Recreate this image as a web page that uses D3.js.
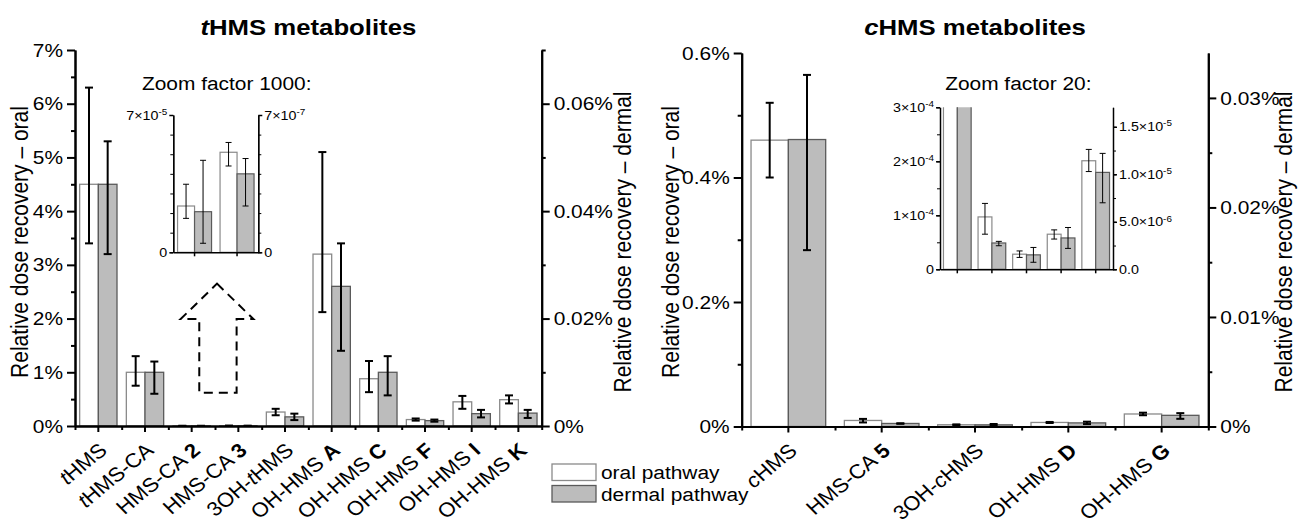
<!DOCTYPE html>
<html>
<head>
<meta charset="utf-8">
<script src="https://cdn.jsdelivr.net/npm/d3@7"></script>
<style>
  body { margin: 0; background: #fff; }
  svg text { font-family: "Liberation Sans", Arial, Helvetica, sans-serif; fill: #000; }
</style>
</head>
<body>
<svg id="chart" width="1298" height="523"></svg>
<script>
// ---- data: tHMS metabolites (values in % of dose) ----
// "_x_" marks italic text, "*x*" marks bold text
const tCategories = ["_t_HMS", "_t_HMS-CA", "HMS-CA *2*", "HMS-CA *3*", "3OH-_t_HMS",
                     "OH-HMS *A*", "OH-HMS *C*", "OH-HMS *F*", "OH-HMS *I*", "OH-HMS *K*"];
const tOral     = [4.5, 1.0, 0.00236, 0.0051, 0.26, 3.2, 0.88, 0.12, 0.45, 0.49];
const tOralLo   = [3.4, 0.75, 0.00173, 0.0044, 0.20, 2.12, 0.63, 0.10, 0.32, 0.42];
const tOralHi   = [6.3, 1.3, 0.00347, 0.0056, 0.32, 5.1, 1.21, 0.14, 0.56, 0.57];
const tDermal   = [0.045, 0.010, 0.0000207, 0.000040, 0.0017, 0.026, 0.010, 0.0010, 0.0023, 0.0024];
const tDermalLo = [0.032, 0.006, 0.0000046, 0.0000236, 0.0011, 0.014, 0.0057, 0.0008, 0.0016, 0.0015];
const tDermalHi = [0.053, 0.012, 0.0000469, 0.0000478, 0.0023, 0.034, 0.013, 0.0012, 0.0030, 0.0030];

// ---- data: cHMS metabolites (values in % of dose) ----
const cCategories = ["_c_HMS", "HMS-CA *5*", "3OH-_c_HMS", "OH-HMS *D*", "OH-HMS *G*"];
const cOral     = [0.46, 0.0097, 0.0028, 0.0065, 0.0201];
const cOralLo   = [0.40, 0.0065, 0.0022, 0.0056, 0.0181];
const cOralHi   = [0.52, 0.0122, 0.0034, 0.0073, 0.0222];
const cDermal   = [0.0262, 0.000277, 0.000152, 0.00033, 0.00102];
const cDermalLo = [0.0161, 0.000248, 0.000074, 0.00022, 0.00070];
const cDermalHi = [0.0321, 0.000294, 0.00023, 0.00044, 0.00122];

// ---- axis ticks ----
const tOralTicks   = [0, 1, 2, 3, 4, 5, 6, 7];
const tDermalTicks = [0, 0.02, 0.04, 0.06];
const cOralTicks   = [0, 0.2, 0.4, 0.6];
const cDermalTicks = [0, 0.01, 0.02, 0.03];

// inset ticks (fractions of dose), "^" starts the exponent
const tInsetLeftTicks   = [0, 7e-5];
const tInsetLeftLabels  = ["0", "7×10^-5"];
const tInsetRightTicks  = [0, 7e-7];
const tInsetRightLabels = ["0", "7×10^-7"];
const cInsetLeftTicks   = [0, 1e-4, 2e-4, 3e-4];
const cInsetLeftLabels  = ["0", "1×10^-4", "2×10^-4", "3×10^-4"];
const cInsetRightTicks  = [0, 5e-6, 1e-5, 1.5e-5];
const cInsetRightLabels = ["0.0", "5.0×10^-6", "1.0×10^-5", "1.5×10^-5"];

// the source figure is slightly stretched sideways
const SX = 1.1;
const ORAL_FILL = '#ffffff', ORAL_STROKE = '#8a8a8a';
const DERMAL_FILL = '#bcbcbc', DERMAL_STROKE = '#5a5a5a';

const svg = d3.select('#chart');

function stretchText(sel) {
    sel.each(function() {
        const t = d3.select(this);
        const x = +t.attr('x') || 0;
        t.attr('x', x / SX).attr('transform', `scale(${SX},1)`);
    });
}

function richLabel(text, label) {
    label.split(/(_[^_]+_|\*[^*]+\*)/).filter(s => s).forEach(p => {
        const ts = text.append('tspan');
        if (p[0] === '_') ts.style('font-style', 'italic').text(p.slice(1, -1));
        else if (p[0] === '*') ts.style('font-weight', 'bold').text(p.slice(1, -1));
        else ts.text(p);
    });
}

function supLabels(axisG) {
    axisG.selectAll('.tick text').each(function() {
        const t = d3.select(this);
        const [m, e] = t.text().split('^');
        t.text(null);
        t.append('tspan').text(m);
        if (e) t.append('tspan').attr('dy', '-0.55em').style('font-size', '9px').text(e);
    });
}

function styleAxis(g, width, size) {
    g.attr('font-size', size).attr('font-family', null);
    g.select('.domain').attr('stroke-width', width);
    g.selectAll('.tick line').attr('stroke-width', width);
}

function drawErrorBars(g, idx, cx, y, lo, hi, width, cap) {
    const eb = g.append('g').selectAll('g').data(idx).join('g')
        .attr('stroke', '#000').attr('stroke-width', width);
    eb.append('line').attr('x1', cx).attr('x2', cx)
        .attr('y1', d => y(lo[d])).attr('y2', d => y(hi[d]));
    eb.append('line').attr('x1', d => cx(d) - cap).attr('x2', d => cx(d) + cap)
        .attr('y1', d => y(hi[d])).attr('y2', d => y(hi[d]));
    eb.append('line').attr('x1', d => cx(d) - cap).attr('x2', d => cx(d) + cap)
        .attr('y1', d => y(lo[d])).attr('y2', d => y(lo[d]));
}

function drawPanel(p) {
    const g = svg.append('g');
    const n = p.cats.length;
    const idx = d3.range(n);
    const x = d3.scaleBand().domain(idx).range([p.x0, p.x1]);
    const xSub = d3.scaleBand().domain(['oral', 'dermal']).range([0, x.bandwidth()]).paddingOuter(0.25);
    const xLin = d3.scaleLinear().domain([0, n]).range([p.x0, p.x1]);
    const yL = d3.scaleLinear().domain([0, p.leftMax]).range([p.yB, p.yT]);
    const yR = d3.scaleLinear().domain([0, p.rightMax]).range([p.yB, p.yT]);

    const series = [
        { key: 'oral', y: yL, v: p.oral, lo: p.oralLo, hi: p.oralHi, fill: ORAL_FILL, stroke: ORAL_STROKE },
        { key: 'dermal', y: yR, v: p.dermal, lo: p.dermalLo, hi: p.dermalHi, fill: DERMAL_FILL, stroke: DERMAL_STROKE }
    ];

    series.forEach(s => {
        g.append('g').selectAll('rect').data(idx).join('rect')
            .attr('x', d => x(d) + xSub(s.key))
            .attr('width', xSub.bandwidth())
            .attr('y', d => s.y(s.v[d]))
            .attr('height', d => p.yB - s.y(s.v[d]))
            .attr('fill', s.fill)
            .attr('stroke', s.stroke)
            .attr('stroke-width', 1.3);
    });
    series.forEach(s => {
        const cx = d => x(d) + xSub(s.key) + xSub.bandwidth() / 2;
        drawErrorBars(g, idx, cx, s.y, s.lo, s.hi, 2, 4);
    });

    // left axis (oral)
    const aL = g.append('g').attr('transform', `translate(${p.x0},0)`)
        .call(d3.axisLeft(yL).tickValues(p.leftTicks).tickFormat(d => d + '%')
            .tickSize(8).tickSizeOuter(0).tickPadding(4));
    styleAxis(aL, 2, 19);
    stretchText(aL.selectAll('text'));
    const aLm = g.append('g').attr('transform', `translate(${p.x0},0)`)
        .call(d3.axisLeft(yL).tickValues(p.leftMinor).tickFormat('').tickSize(4).tickSizeOuter(0));
    styleAxis(aLm, 2, 19);

    // right axis (dermal)
    const aR = g.append('g').attr('transform', `translate(${p.x1},0)`)
        .call(d3.axisRight(yR).tickValues(p.rightTicks).tickFormat(d => d + '%')
            .tickSize(8).tickSizeOuter(0).tickPadding(4));
    styleAxis(aR, 2, 19);
    stretchText(aR.selectAll('text'));
    const aRm = g.append('g').attr('transform', `translate(${p.x1},0)`)
        .call(d3.axisRight(yR).tickValues(p.rightMinor).tickFormat('').tickSize(4).tickSizeOuter(0));
    styleAxis(aRm, 2, 19);

    // bottom axis
    const aB = g.append('g').attr('transform', `translate(0,${p.yB})`)
        .call(d3.axisBottom(x).tickFormat('').tickSize(6).tickSizeOuter(0));
    styleAxis(aB, 2, 19);
    const aBm = g.append('g').attr('transform', `translate(0,${p.yB})`)
        .call(d3.axisBottom(xLin).tickValues(d3.range(n + 1)).tickFormat('').tickSize(4).tickSizeOuter(0));
    styleAxis(aBm, 2, 19);

    // category labels
    idx.forEach(d => {
        const t = g.append('text')
            .attr('transform', `translate(${x(d) + x.bandwidth() / 2 + 10},${p.yB + 26}) scale(${SX},1) rotate(-42)`)
            .attr('text-anchor', 'end')
            .attr('font-size', 20);
        richLabel(t, p.cats[d]);
    });

    // axis titles
    [[p.leftTitleX, 'Relative dose recovery – oral'], [p.rightTitleX, 'Relative dose recovery – dermal']]
        .forEach(([tx, label]) => {
            g.append('text')
                .attr('transform', `translate(${tx},242) scale(${SX},1) rotate(-90)`)
                .attr('text-anchor', 'middle')
                .attr('font-size', 21)
                .text(label);
        });

    // title
    const title = g.append('text')
        .attr('transform', `translate(${(p.x0 + p.x1) / 2},35) scale(1.17,1)`)
        .attr('text-anchor', 'middle')
        .attr('font-size', 22)
        .attr('font-weight', 'bold');
    richLabel(title, p.title);

    return { x, yL, yR };
}

function drawInset(p) {
    const g = svg.append('g');
    const x = d3.scaleBand().domain(p.idx).range([p.x0, p.x1]);
    const xSub = d3.scaleBand().domain(['oral', 'dermal']).range([0, x.bandwidth()]).paddingOuter(0.25);
    const yL = d3.scaleLinear().domain([0, p.leftMax]).range([p.yB, p.yT]);
    const yR = d3.scaleLinear().domain([0, p.rightMax]).range([p.yB, p.yT]);

    svg.append('clipPath').attr('id', p.id)
        .append('rect').attr('x', p.x0).attr('y', p.yT)
        .attr('width', p.x1 - p.x0).attr('height', p.yB - p.yT);
    const plot = g.append('g').attr('clip-path', `url(#${p.id})`);

    // values are kept in %, insets are drawn in fractions of dose
    const frac = arr => arr.map(v => v / 100);
    const series = [
        { key: 'oral', y: yL, v: frac(p.oral), lo: frac(p.oralLo), hi: frac(p.oralHi), fill: ORAL_FILL, stroke: ORAL_STROKE },
        { key: 'dermal', y: yR, v: frac(p.dermal), lo: frac(p.dermalLo), hi: frac(p.dermalHi), fill: DERMAL_FILL, stroke: DERMAL_STROKE }
    ];
    series.forEach(s => {
        plot.append('g').selectAll('rect').data(p.idx).join('rect')
            .attr('x', d => x(d) + xSub(s.key))
            .attr('width', xSub.bandwidth())
            .attr('y', d => s.y(s.v[d]))
            .attr('height', d => p.yB - s.y(s.v[d]))
            .attr('fill', s.fill)
            .attr('stroke', s.stroke)
            .attr('stroke-width', 1.2);
    });
    series.forEach(s => {
        const cx = d => x(d) + xSub(s.key) + xSub.bandwidth() / 2;
        drawErrorBars(plot, p.idx, cx, s.y, s.lo, s.hi, 1, 3);
    });

    const aL = g.append('g').attr('transform', `translate(${p.x0},0)`)
        .call(d3.axisLeft(yL).tickValues(p.leftTicks).tickFormat((d, i) => p.leftLabels[i])
            .tickSize(4).tickSizeOuter(0).tickPadding(2));
    styleAxis(aL, 1.5, 13);
    supLabels(aL);
    stretchText(aL.selectAll('text'));
    const aLm = g.append('g').attr('transform', `translate(${p.x0},0)`)
        .call(d3.axisLeft(yL).tickValues(d3.range(0, p.leftMax * 1.0001, p.leftStep)).tickFormat('')
            .tickSize(3).tickSizeOuter(0));
    styleAxis(aLm, 1, 13);

    const aR = g.append('g').attr('transform', `translate(${p.x1},0)`)
        .call(d3.axisRight(yR).tickValues(p.rightTicks).tickFormat((d, i) => p.rightLabels[i])
            .tickSize(4).tickSizeOuter(0).tickPadding(2));
    styleAxis(aR, 1.5, 13);
    supLabels(aR);
    stretchText(aR.selectAll('text'));
    const aRm = g.append('g').attr('transform', `translate(${p.x1},0)`)
        .call(d3.axisRight(yR).tickValues(d3.range(0, p.rightMax * 0.999, p.rightStep)).tickFormat('')
            .tickSize(3).tickSizeOuter(0));
    styleAxis(aRm, 1, 13);

    const aB = g.append('g').attr('transform', `translate(0,${p.yB})`)
        .call(d3.axisBottom(x).tickFormat('').tickSize(4).tickSizeOuter(0));
    styleAxis(aB, 1.5, 13);

    g.append('text')
        .attr('transform', `translate(${p.labelX},90) scale(${SX},1)`)
        .attr('text-anchor', 'middle')
        .attr('font-size', 19)
        .text(p.label);
}

// ---- left panel: tHMS ----
const tPanel = drawPanel({
    cats: tCategories, oral: tOral, oralLo: tOralLo, oralHi: tOralHi,
    dermal: tDermal, dermalLo: tDermalLo, dermalHi: tDermalHi,
    x0: 75, x1: 541.7, yT: 50, yB: 426,
    leftMax: 7, rightMax: 0.07,
    leftTicks: tOralTicks, leftMinor: d3.range(0.5, 7, 1),
    rightTicks: tDermalTicks, rightMinor: [0.01, 0.03, 0.05, 0.07],
    leftTitleX: 28, rightTitleX: 631,
    title: '_t_HMS metabolites'
});

// dashed arrow pointing from HMS-CA 2/3 up to the zoomed inset
{
    const bw = tPanel.x.bandwidth();
    const cx = tPanel.x(3) + 2;
    const y = tPanel.yL;
    const pts = [
        [cx, y(2.65)], [cx + 0.78 * bw, y(1.99)], [cx + 0.42 * bw, y(1.99)],
        [cx + 0.42 * bw, y(0.62)], [cx - 0.38 * bw, y(0.62)], [cx - 0.38 * bw, y(1.99)],
        [cx - 0.78 * bw, y(1.99)]
    ];
    svg.append('path')
        .attr('d', d3.line()(pts) + 'Z')
        .attr('fill', 'none')
        .attr('stroke', '#000')
        .attr('stroke-width', 2)
        .attr('stroke-dasharray', '9,6');
}

drawInset({
    id: 'clipT', idx: [2, 3],
    oral: tOral, oralLo: tOralLo, oralHi: tOralHi,
    dermal: tDermal, dermalLo: tDermalLo, dermalHi: tDermalHi,
    x0: 173.3, x1: 258.3, yT: 115, yB: 252.3,
    leftMax: 7e-5, rightMax: 7e-7, leftStep: 1e-5, rightStep: 1e-7,
    leftTicks: tInsetLeftTicks, leftLabels: tInsetLeftLabels,
    rightTicks: tInsetRightTicks, rightLabels: tInsetRightLabels,
    label: 'Zoom factor 1000:', labelX: 226.7
});

// ---- right panel: cHMS ----
drawPanel({
    cats: cCategories, oral: cOral, oralLo: cOralLo, oralHi: cOralHi,
    dermal: cDermal, dermalLo: cDermalLo, dermalHi: cDermalHi,
    x0: 741.7, x1: 1208.3, yT: 53, yB: 426.5,
    leftMax: 0.6, rightMax: 0.0341,
    leftTicks: cOralTicks, leftMinor: [0.1, 0.3, 0.5],
    rightTicks: cDermalTicks, rightMinor: [0.005, 0.015, 0.025],
    leftTitleX: 679, rightTitleX: 1292,
    title: '_c_HMS metabolites'
});

drawInset({
    id: 'clipC', idx: d3.range(cCategories.length),
    oral: cOral, oralLo: cOralLo, oralHi: cOralHi,
    dermal: cDermal, dermalLo: cDermalLo, dermalHi: cDermalHi,
    x0: 940, x1: 1113, yT: 107.3, yB: 269.3,
    leftMax: 3e-4, rightMax: 1.705e-5, leftStep: 0.5e-4, rightStep: 2.5e-6,
    leftTicks: cInsetLeftTicks, leftLabels: cInsetLeftLabels,
    rightTicks: cInsetRightTicks, rightLabels: cInsetRightLabels,
    label: 'Zoom factor 20:', labelX: 1018.3
});

// ---- legend ----
const legendItems = [
    { label: 'oral pathway', fill: ORAL_FILL, stroke: ORAL_STROKE },
    { label: 'dermal pathway', fill: DERMAL_FILL, stroke: DERMAL_STROKE }
];
const legend = svg.append('g').attr('transform', 'translate(552,464)');
legend.selectAll('rect').data(legendItems).join('rect')
    .attr('x', 0).attr('y', (d, i) => i * 21.5)
    .attr('width', 44).attr('height', 16.5)
    .attr('fill', d => d.fill).attr('stroke', d => d.stroke).attr('stroke-width', 1.3);
legend.selectAll('text').data(legendItems).join('text')
    .attr('transform', (d, i) => `translate(49,${i * 21.5 + 15}) scale(${SX},1)`)
    .attr('font-size', 19)
    .text(d => d.label);
</script>
</body>
</html>
